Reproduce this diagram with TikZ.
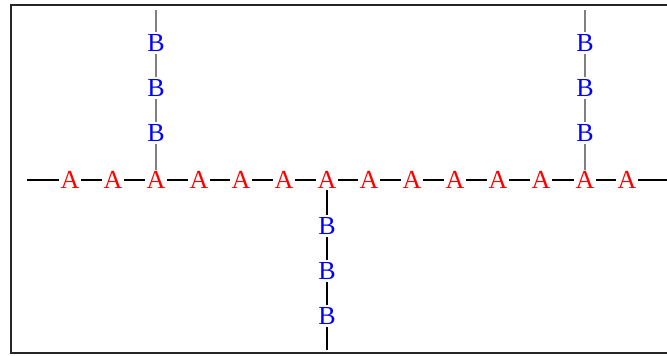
\documentclass[tikz,border=0pt]{standalone}
\usepackage{fontspec}
\setmainfont{Liberation Serif}
\begin{document}
\begin{tikzpicture}[x=1pt,y=-1pt,
  anode/.style={text=red,inner sep=1.5pt,font=\fontsize{26}{26}\selectfont},
  bnode/.style={text=blue,inner sep=2pt,font=\fontsize{26}{26}\selectfont},
  hline/.style={black,line width=1.3pt},
  gline/.style={gray,line width=1.3pt},
  vline/.style={black,line width=1.3pt}]
\path[use as bounding box] (0,0) rectangle (667,356);
\clip (0,0) rectangle (667,356);
\draw[line width=1.5pt,black!85] (11,5) rectangle (680,353);
\foreach \i/\x in {1/70,2/113,3/156,4/199,5/241,6/284,7/327,8/369,9/412,10/455,11/498,12/541,13/585,14/627}
  \node[anode] (a\i) at (\x,180) {A};
\coordinate (hl) at (27,180);
\coordinate (hr) at (680,180);
\draw[hline] (hl) -- (a1) -- (a2) -- (a3) -- (a4) -- (a5) -- (a6) -- (a7) -- (a8) -- (a9) -- (a10) -- (a11) -- (a12) -- (a13) -- (a14) -- (hr);
% top-left branch
\node[bnode] (p1) at (156,43) {B};
\node[bnode] (p2) at (156,88) {B};
\node[bnode] (p3) at (156,133) {B};
\coordinate (pt) at (156,10);
\draw[gline] (pt) -- (p1) -- (p2) -- (p3) -- (a3);
% top-right branch
\node[bnode] (q1) at (585,43) {B};
\node[bnode] (q2) at (585,88) {B};
\node[bnode] (q3) at (585,133) {B};
\coordinate (qt) at (585,10);
\draw[gline] (qt) -- (q1) -- (q2) -- (q3) -- (a13);
% bottom branch
\node[bnode] (r1) at (327,226) {B};
\node[bnode] (r2) at (327,271) {B};
\node[bnode] (r3) at (327,316) {B};
\coordinate (rb) at (327,350);
\draw[vline] (a7) -- (r1) -- (r2) -- (r3) -- (rb);
\end{tikzpicture}
\end{document}
